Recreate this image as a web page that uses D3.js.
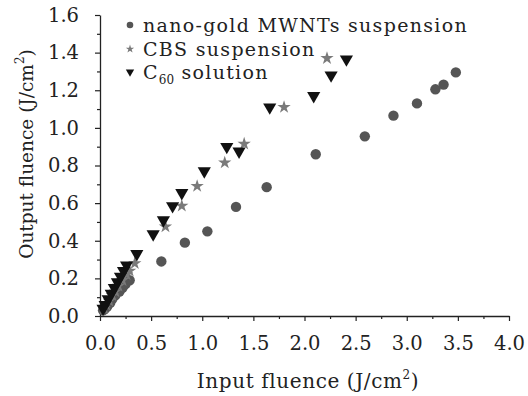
<!DOCTYPE html>
<html>
<head>
<meta charset="UTF-8">
<title>Output vs Input fluence</title>
<script src="https://d3js.org/d3.v7.min.js"></script>
<style>
  body { margin: 0; background: #fff; }
  svg text { font-family: "DejaVu Serif", serif; fill: #222; }
</style>
</head>
<body>
<div id="chart"></div>
<script>
// nano-gold MWNTs suspension
const goldX = [0.03, 0.05, 0.07, 0.10, 0.12, 0.15, 0.19, 0.22, 0.25, 0.29, 0.60, 0.83, 1.05, 1.33, 1.63, 2.11, 2.59, 2.87, 3.10, 3.28, 3.36, 3.48];
const goldY = [0.03, 0.04, 0.05, 0.07, 0.09, 0.11, 0.13, 0.15, 0.17, 0.19, 0.29, 0.39, 0.45, 0.58, 0.685, 0.86, 0.955, 1.065, 1.13, 1.205, 1.23, 1.295];
// CBS suspension
const cbsX = [0.04, 0.06, 0.09, 0.12, 0.15, 0.18, 0.22, 0.26, 0.29, 0.34, 0.64, 0.80, 0.95, 1.22, 1.41, 1.80, 2.22];
const cbsY = [0.04, 0.06, 0.08, 0.11, 0.13, 0.16, 0.19, 0.22, 0.24, 0.28, 0.475, 0.585, 0.69, 0.815, 0.915, 1.11, 1.37];
// C60 solution
const c60X = [0.03, 0.05, 0.08, 0.11, 0.14, 0.17, 0.20, 0.23, 0.26, 0.36, 0.52, 0.62, 0.71, 0.80, 1.02, 1.24, 1.36, 1.66, 2.09, 2.26, 2.41];
const c60Y = [0.04, 0.06, 0.09, 0.12, 0.15, 0.18, 0.21, 0.24, 0.27, 0.33, 0.435, 0.51, 0.585, 0.655, 0.77, 0.90, 0.875, 1.11, 1.17, 1.28, 1.365];

const xTicks = [0, 0.5, 1, 1.5, 2, 2.5, 3, 3.5, 4];
const yTicks = [0, 0.2, 0.4, 0.6, 0.8, 1.0, 1.2, 1.4, 1.6];
const legendLabels = ["nano-gold MWNTs suspension", "CBS suspension", "C60 solution"];

const W = 528, H = 396;
const margin = {top: 15, right: 19, bottom: 80, left: 100};
const width = W - margin.left - margin.right;
const height = H - margin.top - margin.bottom;

const svgRoot = d3.select("#chart").append("svg")
  .attr("width", W).attr("height", H);
const svg = svgRoot.append("g")
  .attr("transform", `translate(${margin.left},${margin.top})`);

const x = d3.scaleLinear().domain([0, 4]).range([0, width]);
const y = d3.scaleLinear().domain([0, 1.6]).range([height, 0]);

// minor ticks
svg.append("g")
  .attr("transform", `translate(0,${height})`)
  .call(d3.axisBottom(x).tickValues(d3.range(0.25, 4, 0.5)).tickSize(3).tickFormat(""))
  .call(g => g.select(".domain").remove());
svg.append("g")
  .call(d3.axisLeft(y).tickValues(d3.range(0.1, 1.6, 0.2)).tickSize(3).tickFormat(""))
  .call(g => g.select(".domain").remove());

const xAxis = svg.append("g")
  .attr("transform", `translate(0,${height})`)
  .call(d3.axisBottom(x).tickValues(xTicks).tickSize(5).tickSizeOuter(0).tickPadding(15).tickFormat(d3.format(".1f")));
const yAxis = svg.append("g")
  .call(d3.axisLeft(y).tickValues(yTicks).tickSize(5).tickSizeOuter(0).tickPadding(16).tickFormat(d3.format(".1f")));

[xAxis, yAxis].forEach(a => {
  a.selectAll("text").style("font-size", "19.5px").style("font-family", "DejaVu Serif, serif").attr("fill", "#222");
  a.selectAll("line, path").attr("stroke", "#222").attr("stroke-width", 1.3);
});
svg.selectAll(".tick line").attr("stroke", "#222").attr("stroke-width", 1.2);

// axis titles
const xt = svgRoot.append("text")
  .attr("x", 308).attr("y", 388)
  .attr("text-anchor", "middle")
  .style("font-size", "20px")
  .style("letter-spacing", "0.6px");
xt.append("tspan").text("Input fluence (J/cm");
xt.append("tspan").attr("dy", -9).style("font-size", "12px").text("2");
xt.append("tspan").attr("dy", 9).text(")");

const yt = svgRoot.append("text")
  .attr("transform", "translate(33,154) rotate(-90)")
  .attr("text-anchor", "middle")
  .style("font-size", "18.5px");
yt.append("tspan").text("Output fluence (J/cm");
yt.append("tspan").attr("dy", -9).style("font-size", "12px").text("2");
yt.append("tspan").attr("dy", 9).text(")");

// series
const series = [
  {xs: goldX, ys: goldY, shape: d3.symbolCircle, size: 85, color: "#555"},
  {xs: cbsX, ys: cbsY, shape: d3.symbolStar, size: 55, color: "#7a7a7a"},
  {xs: c60X, ys: c60Y, shape: d3.symbolTriangle, size: 75, color: "#111", flip: true}
];

series.forEach(s => {
  const pts = s.xs.map((v, i) => [v, s.ys[i]]);
  svg.append("g").selectAll("path")
    .data(pts)
    .enter()
    .append("path")
    .attr("d", d3.symbol().type(s.shape).size(s.size))
    .attr("transform", d => `translate(${x(d[0])},${y(d[1])})` + (s.flip ? " rotate(180)" : ""))
    .attr("fill", s.color);
});

// legend
const legendRows = [25, 49, 72];
const legend = svgRoot.append("g").attr("transform", "translate(130,0)");
series.forEach((s, i) => {
  const row = legend.append("g").attr("transform", `translate(0,${legendRows[i]})`);
  row.append("path")
    .attr("d", d3.symbol().type(s.shape).size(s.size * 0.4))
    .attr("transform", s.flip ? "rotate(180)" : null)
    .attr("fill", s.color);
  const t = row.append("text").attr("x", 13).attr("y", 7)
    .style("font-size", "19px")
    .style("letter-spacing", "1.3px");
  if (i === 2) {
    t.append("tspan").text("C");
    t.append("tspan").attr("dy", 5).style("font-size", "12px").style("letter-spacing", "0px").text("60");
    t.append("tspan").attr("dy", -5).text(" solution");
  } else {
    t.text(legendLabels[i]);
  }
});
</script>
</body>
</html>
